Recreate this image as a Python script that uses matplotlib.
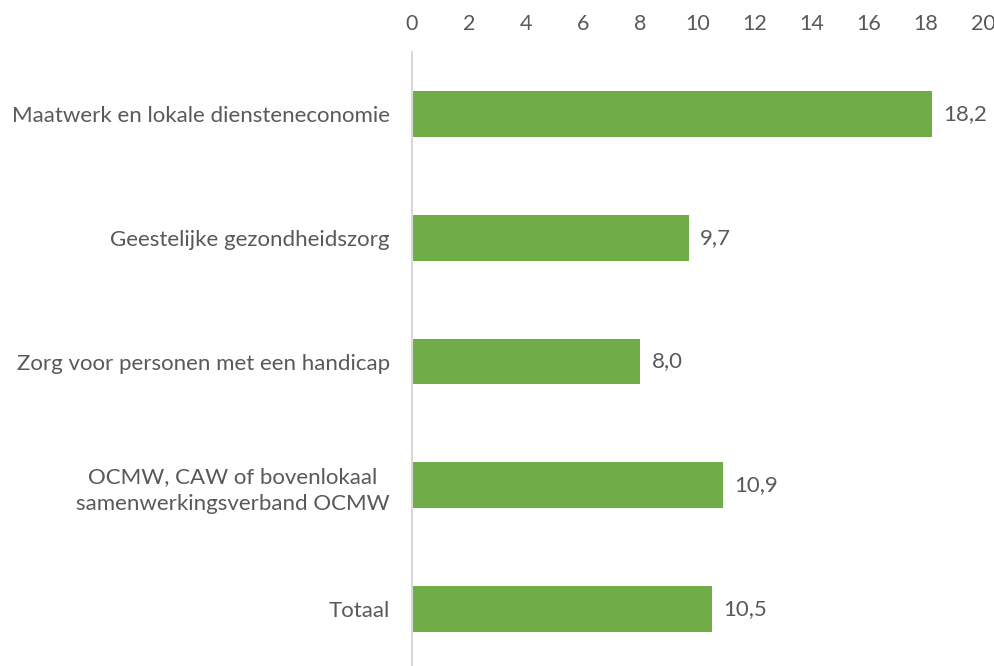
import matplotlib
matplotlib.use("Agg")
import matplotlib.pyplot as plt

categories = [
    "Maatwerk en lokale diensteneconomie",
    "Geestelijke gezondheidszorg",
    "Zorg voor personen met een handicap",
    "OCMW, CAW of bovenlokaal\nsamenwerkingsverband OCMW",
    "Totaal",
]
values = [18.2, 9.7, 8.0, 10.9, 10.5]
xticks = [0, 2, 4, 6, 8, 10, 12, 14, 16, 18, 20]

green = "#70AD47"
grey_text = "#595959"

plt.rcParams["font.family"] = ["Lato", "DejaVu Sans"]

fig = plt.figure(figsize=(9.95, 6.66), dpi=100)
ax = fig.add_axes([412 / 995, -5 / 666, 571 / 995, 619 / 666])

pos = list(range(len(categories)))
ax.barh(pos, values, height=0.37, color=green)
ax.set_ylim(len(categories) - 0.5, -0.5)
ax.set_xlim(0, 20)

ax.set_yticks(pos)
ax.set_yticklabels(categories, fontsize=16, color=grey_text, ha="right", linespacing=1.4)
for lbl in ax.get_yticklabels():
    lbl.set_multialignment("center")
ax.set_xticks(xticks)
ax.set_xticklabels([str(t) for t in xticks], fontsize=15.5, color=grey_text)
ax.xaxis.tick_top()
ax.tick_params(axis="both", length=0)
ax.tick_params(axis="x", pad=13)
ax.tick_params(axis="y", pad=16)

for side in ["top", "right", "bottom"]:
    ax.spines[side].set_visible(False)
ax.spines["left"].set_color("#D9D9D9")
ax.spines["left"].set_linewidth(1.5)

for p, v in zip(pos, values):
    ax.text(v + 0.4, p, f"{v:.1f}".replace(".", ","), va="center", ha="left",
            fontsize=16, color=grey_text)

fig.savefig("out.png", dpi=100)
